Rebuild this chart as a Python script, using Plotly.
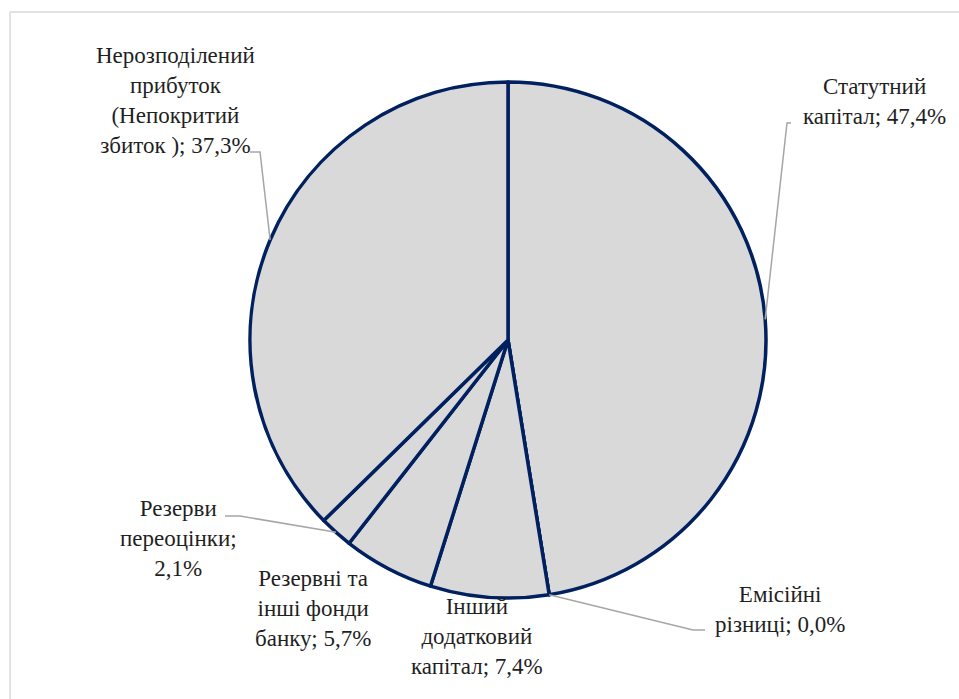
import math
import plotly.graph_objects as go

W, H = 959, 699

# Bank equity structure, shares in percent (clockwise from 12 o'clock)
categories = [
    "Статутний капітал",
    "Емісійні різниці",
    "Інший додатковий капітал",
    "Резервні та інші фонди банку",
    "Резерви переоцінки",
    "Нерозподілений прибуток (Непокритий збиток )",
]
shares = [47.4, 0.0, 7.4, 5.7, 2.1, 37.3]

# Wrapped label text, {p} is replaced by the formatted share
label_templates = [
    "Статутний<br>капітал; {p}",
    "Емісійні<br>різниці; {p}",
    "Інший<br>додатковий<br>капітал; {p}",
    "Резервні та<br>інші фонди<br>банку; {p}",
    "Резерви<br>переоцінки;<br>{p}",
    "Нерозподілений<br>прибуток<br>(Непокритий<br>збиток ); {p}",
]

# Label block centres (px) and leader-line elbows (px, None = no leader)
label_pos = [(874, 101), (780, 609), (477, 636), (313, 608), (178, 538), (175, 100)]
leader_elbows = [
    [(787, 123), (791, 123)],
    [(693, 630), (705, 630)],
    None,
    None,
    [(240, 516), (225, 516)],
    [(260, 152), (250, 152)],
]

CX, CY, R = 508, 340, 258
FILL = "#d9d9d9"
EDGE = "#002060"
LEADER = "#a6a6a6"
TEXT = "#1f1f1f"
FONT = "Liberation Serif"


def px(x):
    return x / W


def py(y):
    return 1 - y / H


def fmt(v):
    return f"{v:.1f}".replace(".", ",") + "%"


fig = go.Figure(
    go.Pie(
        values=shares,
        labels=categories,
        sort=False,
        direction="clockwise",
        rotation=0,
        textinfo="none",
        hoverinfo="label+percent",
        marker=dict(colors=[FILL] * len(shares), line=dict(color=EDGE, width=3.5)),
        domain=dict(x=[px(CX - 300), px(CX + 300)], y=[py(CY + R), py(CY - R)]),
        showlegend=False,
    )
)

total = sum(shares)
annotations = []
shapes = []

cum = 0.0
for v, tpl, pos, elbow in zip(shares, label_templates, label_pos, leader_elbows):
    mid = (cum + v / 2) / total * 2 * math.pi
    cum += v
    annotations.append(dict(
        x=px(pos[0]), y=py(pos[1]), xref="paper", yref="paper",
        showarrow=False, text=tpl.format(p=fmt(v)),
        xanchor="center", yanchor="middle",
        font=dict(family=FONT, size=23, color=TEXT),
    ))
    if elbow:
        ex = CX + R * math.sin(mid)
        ey = CY - R * math.cos(mid)
        pts = [(ex, ey)] + elbow
        path = "M " + " L ".join(f"{px(a):.5f},{py(b):.5f}" for a, b in pts)
        shapes.append(dict(type="path", xref="paper", yref="paper", path=path,
                           line=dict(color=LEADER, width=1.5)))

# outer chart-area frame, drawn last
shapes.append(dict(type="line", xref="paper", yref="paper",
                   x0=px(10), x1=1, y0=py(12), y1=py(12),
                   line=dict(color="#d9d9d9", width=1.5)))
shapes.append(dict(type="line", xref="paper", yref="paper",
                   x0=px(10), x1=px(10), y0=0, y1=py(12),
                   line=dict(color="#d9d9d9", width=1.5)))

fig.update_layout(
    width=W, height=H,
    margin=dict(l=0, r=0, t=0, b=0),
    annotations=annotations,
    shapes=shapes,
)

fig.write_html("out.html")
